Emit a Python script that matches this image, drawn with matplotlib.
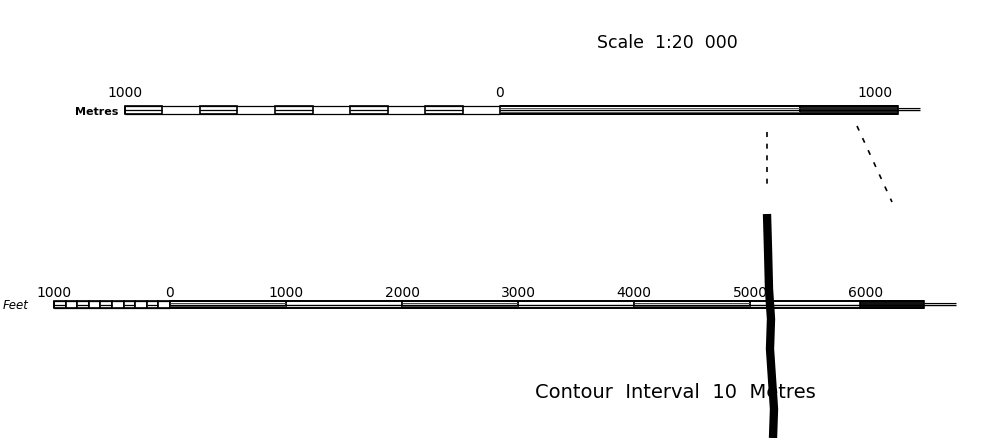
import matplotlib.pyplot as plt
from matplotlib.patches import Rectangle

# scale bar values
metre_ticks = [-1000, 0, 1000]
metre_labels = ["1000", "0", "1000"]
metre_subdiv = list(range(-1000, 0, 100))   # 100 m steps left of zero
metre_main = [0, 800, 1060]                 # open part, dark part, end
metre_line_end = 1120

feet_ticks = [-1000, 0, 1000, 2000, 3000, 4000, 5000, 6000]
feet_labels = ["1000", "0", "1000", "2000", "3000", "4000", "5000", "6000"]
feet_subdiv = list(range(-1000, 0, 100))    # 100 ft steps left of zero
feet_main = [0, 1000, 2000, 3000, 4000, 5000, 5950, 6500]
feet_line_end = 6780

# scan smudges (pixel coords)
streak_x = [767, 768, 769, 771, 770, 772, 774, 773]
streak_y = [215, 250, 290, 320, 350, 380, 410, 439]
diag_x = [857, 892]
diag_y = [127, 203]

fig = plt.figure(figsize=(9.86, 4.39), dpi=100)

# metres axis: 0 m at x=500 px, 375 px per 1000 m
axm = fig.add_axes([0, 0, 1, 1])
axm.set_xlim(-500 / 0.375, 486 / 0.375)
axm.set_ylim(439, 0)
axm.axis('off')

# feet axis: 0 ft at x=170 px, 116 px per 1000 ft
axf = fig.add_axes([0, 0, 1, 1])
axf.set_xlim(-170 / 0.116, 816 / 0.116)
axf.set_ylim(439, 0)
axf.axis('off')
axf.patch.set_alpha(0)

# overlay in pixels for the scan marks
axp = fig.add_axes([0, 0, 1, 1])
axp.set_xlim(0, 986)
axp.set_ylim(439, 0)
axp.axis('off')
axp.patch.set_alpha(0)


def draw_bar(ax, subdiv, step, main, line_end, top, bot, alt_main, all_boxes):
    mid = (top + bot) / 2
    # subdivided part
    ax.hlines([top, bot], subdiv[0], 0, color='black', lw=0.9)
    for i, x0 in enumerate(subdiv):
        if all_boxes or i % 2 == 0:
            ax.add_patch(Rectangle((x0, top), step, bot - top, fc='white',
                                   ec='black', lw=1.2))
        if i % 2 == 0:
            ax.hlines(mid, x0, x0 + step, color='black', lw=0.9)
    ax.vlines(subdiv[0], top, bot, color='black', lw=1.3)
    # main part
    ax.hlines([top, bot], 0, main[-1], color='black', lw=1.4)
    ax.hlines(mid, 0, line_end, color='black', lw=1.0)
    ax.hlines(mid - 2, main[-1], line_end, color='black', lw=0.8)
    for i in range(len(main) - 1):
        x0, x1 = main[i], main[i + 1]
        if alt_main:
            if i == len(main) - 2:
                ax.add_patch(Rectangle((x0, top), x1 - x0, bot - top, fc='#111111',
                                       ec='black', lw=1.2))
            elif i % 2 == 0:
                ax.add_patch(Rectangle((x0, top), x1 - x0, bot - top, fc='white',
                                       ec='black', lw=1.3))
                ax.hlines([mid - 1.5, mid + 1.5], x0, x1, color='#444444', lw=0.7)
        else:
            if i == 0:
                ax.add_patch(Rectangle((x0, top), x1 - x0, bot - top, fc='white',
                                       ec='black', lw=1.2))
                ax.hlines([mid - 2, mid + 2], x0, x1, color='#555555', lw=0.7)
            else:
                ax.add_patch(Rectangle((x0, top), x1 - x0, bot - top, fc='#222222',
                                       ec='black', lw=1.2))


draw_bar(axm, metre_subdiv, 100, metre_main, metre_line_end, 107, 115, False, False)
draw_bar(axf, feet_subdiv, 100, feet_main, feet_line_end, 302, 309, True, True)

for x, lab in zip(metre_ticks, metre_labels):
    axm.text(x, 93, lab, ha='center', va='center', fontsize=10, color='black')
for x, lab in zip(feet_ticks, feet_labels):
    axf.text(x, 293, lab, ha='center', va='center', fontsize=10, color='black')

axp.text(118, 112, "Metres", ha='right', va='center', fontsize=8, fontweight='bold')
axp.text(3, 306, "Feet", ha='left', va='center', fontsize=8.5, style='italic')
axp.text(667, 43, "Scale  1:20  000", ha='center', va='center', fontsize=12.5)
axp.text(535, 393, "Contour  Interval  10  Metres", ha='left', va='center', fontsize=14)

# scan artifacts
axp.plot(streak_x, streak_y, color='black', lw=6, solid_capstyle='butt')
axp.plot([767, 767], [133, 190], color='black', lw=1.2, ls=(0, (3, 4)))
axp.plot(diag_x, diag_y, color='black', lw=1.2, ls=(0, (3, 5)))

fig.savefig("out.png", dpi=100, facecolor='white')
